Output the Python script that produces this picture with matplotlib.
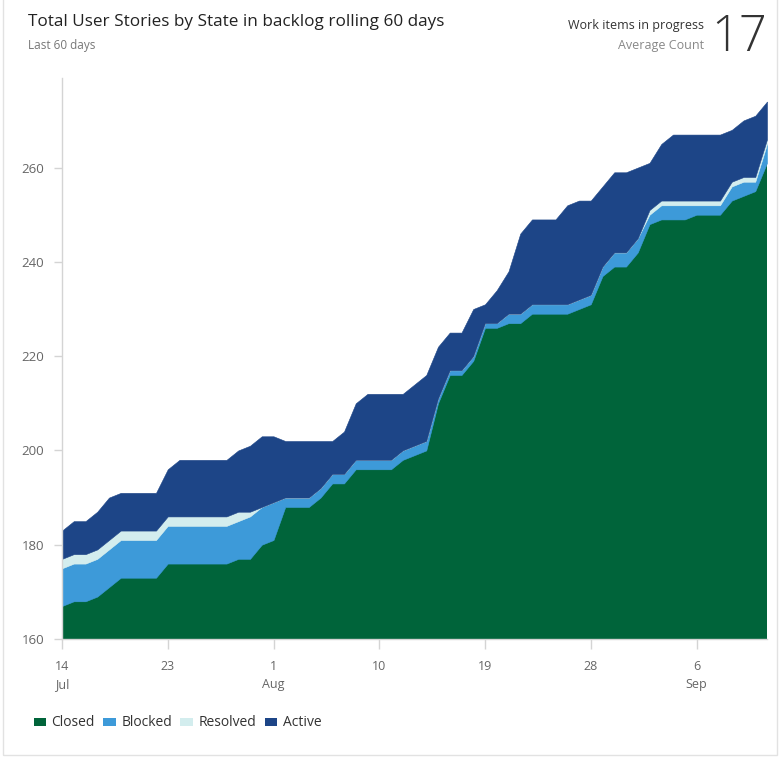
import matplotlib
matplotlib.use('Agg')
import matplotlib.pyplot as plt
from matplotlib.patches import Rectangle
import pandas as pd

plt.rcParams['font.family'] = ['Open Sans', 'DejaVu Sans']

# ---- data ----
dates = pd.date_range('2023-07-14', '2023-09-12', freq='D')

closed = [167, 168, 168, 169, 171, 173, 173, 173, 173, 176,
          176, 176, 176, 176, 176, 177, 177, 180, 181, 188,
          188, 188, 190, 193, 193, 196, 196, 196, 196, 198,
          199, 200, 210, 216, 216, 219, 226, 226, 227, 227,
          229, 229, 229, 229, 230, 231, 237, 239, 239, 242,
          248, 249, 249, 249, 250, 250, 250, 253, 254, 255, 261]

blocked = [8, 8, 8, 8, 8, 8, 8, 8, 8, 8,
           8, 8, 8, 8, 8, 8, 9, 8, 8, 2,
           2, 2, 2, 2, 2, 2, 2, 2, 2, 2,
           2, 2, 1, 1, 1, 1, 1, 1, 2, 2,
           2, 2, 2, 2, 2, 2, 2, 3, 3, 3,
           2, 3, 3, 3, 2, 2, 2, 3, 3, 2, 4]

resolved = [2, 2, 2, 2, 2, 2, 2, 2, 2, 2,
            2, 2, 2, 2, 2, 2, 1, 0, 0, 0,
            0, 0, 0, 0, 0, 0, 0, 0, 0, 0,
            0, 0, 0, 0, 0, 0, 0, 0, 0, 0,
            0, 0, 0, 0, 0, 0, 0, 0, 0, 0,
            1, 1, 1, 1, 1, 1, 1, 1, 1, 1, 1]

active = [6, 7, 7, 8, 9, 8, 8, 8, 8, 10,
          12, 12, 12, 12, 12, 13, 14, 15, 14, 12,
          12, 12, 10, 7, 9, 12, 14, 14, 14, 12,
          13, 14, 11, 8, 8, 10, 4, 7, 9, 17,
          18, 18, 18, 21, 21, 20, 17, 17, 17, 15,
          10, 12, 14, 14, 14, 14, 14, 11, 12, 13, 8]

series_names = ['Closed', 'Blocked', 'Resolved', 'Active']
series_colors = ['#00643a', '#3d9ad9', '#d3edee', '#1d4587']

tick_dates = pd.to_datetime(['2023-07-14', '2023-07-23', '2023-08-01', '2023-08-10',
                             '2023-08-19', '2023-08-28', '2023-09-06'])
tick_labels = ['14\nJul', '23', '1\nAug', '10', '19', '28', '6\nSep']
y_ticks = [160, 180, 200, 220, 240, 260]

# ---- figure ----
W, H = 781, 757
fig = plt.figure(figsize=(W / 100, H / 100), dpi=100)
fig.patch.set_facecolor('white')

ax = fig.add_axes([62 / W, 1 - 639 / H, (767 - 62) / W, (639 - 78) / H])
ax.stackplot(dates, closed, blocked, resolved, active, colors=series_colors,
             edgecolor='face', linewidth=0.4)
ax.set_xlim(dates[0], dates[-1])
ax.set_ylim(160, 279)

for s in ['top', 'right']:
    ax.spines[s].set_visible(False)
for s in ['left', 'bottom']:
    ax.spines[s].set_color('#d4d4d4')
    ax.spines[s].set_linewidth(1)

ax.set_yticks(y_ticks)
ax.set_yticklabels([str(v) for v in y_ticks])
ax.set_xticks(tick_dates)
ax.set_xticklabels(tick_labels, linespacing=1.5)
ax.tick_params(axis='y', length=6, width=1, color='#d4d4d4', labelcolor='#666666',
               labelsize=9.5, pad=7)
ax.tick_params(axis='x', length=7, width=1, color='#d4d4d4', labelcolor='#666666',
               labelsize=9, pad=8)

# ---- header ----
fig.text(28 / W, 1 - 22 / H, 'Total User Stories by State in backlog rolling 60 days',
         fontsize=12.3, color='#222222', va='center', ha='left')
fig.text(28 / W, 1 - 45 / H, 'Last 60 days', fontsize=8.5, color='#777777',
         va='center', ha='left')
fig.text(704 / W, 1 - 25 / H, 'Work items in progress', fontsize=9, color='#333333',
         va='center', ha='right')
fig.text(704 / W, 1 - 46 / H, 'Average Count', fontsize=9, color='#888888',
         va='center', ha='right')
fig.text(739 / W, 1 - 38 / H, '17', fontsize=35, color='#333333', va='center',
         ha='center', family=['Open Sans', 'DejaVu Sans'], weight='light')

# ---- legend ----
handles = [Rectangle((0, 0), 1, 1, facecolor=c, edgecolor='none') for c in series_colors]
fig.legend(handles, series_names, loc='center left',
           bbox_to_anchor=(21 / W, 1 - 723 / H), ncol=4, frameon=False,
           fontsize=10, handlelength=0.9, handleheight=0.5, handletextpad=0.4,
           columnspacing=0.6, labelcolor='#333333')

# ---- card border ----
fig.add_artist(Rectangle((3 / W, 2 / H), 774 / W, 0.999, transform=fig.transFigure,
                         fill=False, edgecolor='#e2e2e2', linewidth=1))

fig.savefig('out.png', dpi=100)
